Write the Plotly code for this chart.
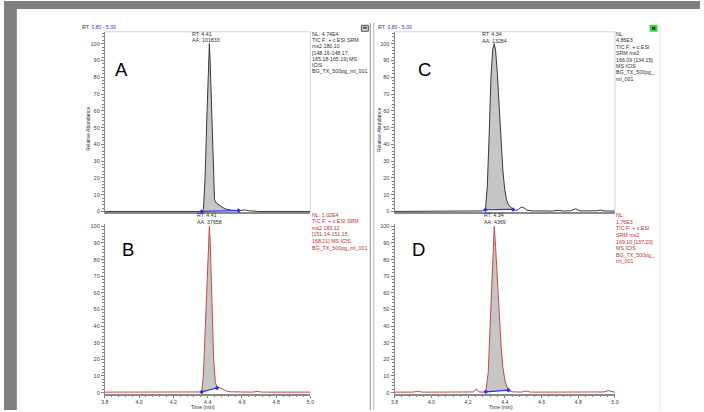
import plotly.graph_objects as go

# ---------------- data ----------------
time_A = [3.80, 4.00, 4.20, 4.30, 4.365, 4.375, 4.385, 4.395, 4.405, 4.41, 4.415, 4.425,
          4.433, 4.44, 4.45, 4.47, 4.49, 4.51, 4.54, 4.58, 4.60, 4.62, 4.64, 4.67, 4.70,
          4.80, 4.90, 5.00]
abund_A = [0, 0, 0, 0, 0, 1, 20, 55, 90, 100, 88, 50,
           18, 7, 5, 3.5, 2.2, 1.3, 0.7, 0.5, 0.8, 0.9, 0.4, 0.2, 0,
           0, 0, 0]
integ_A_t = [4.365, 4.58]
integ_A_y = [0, 0.5]

time_B = [3.80, 3.90, 4.00, 4.10, 4.20, 4.30, 4.35, 4.365, 4.375, 4.385, 4.395, 4.405,
          4.41, 4.415, 4.425, 4.435, 4.445, 4.455, 4.47, 4.49, 4.51, 4.53, 4.60, 4.66,
          4.69, 4.72, 4.80, 4.90, 5.00]
abund_B = [0.3, 0.3, 0.3, 0.3, 0.3, 0.3, 0.3, 0.4, 10, 35, 65, 92,
           100, 90, 55, 20, 6, 3.4, 3.0, 1.8, 0.9, 0.5, 0.3, 0.3,
           0.7, 0.3, 0.3, 0.3, 0.3]
integ_B_t = [4.365, 4.455]
integ_B_y = [0.4, 2.8]

time_C = [3.80, 3.90, 4.00, 4.10, 4.20, 4.28, 4.295, 4.305, 4.315, 4.325, 4.335, 4.343,
          4.35, 4.36, 4.37, 4.38, 4.39, 4.40, 4.41, 4.42, 4.435, 4.445, 4.46, 4.475,
          4.49, 4.505, 4.52, 4.55, 4.60, 4.66, 4.69, 4.72, 4.76, 4.785, 4.81, 4.86,
          4.90, 4.92, 4.94, 5.00]
abund_C = [0, 0.1, 0.2, 0.1, 0.2, 0.3, 1, 15, 45, 80, 97, 100,
           96, 82, 62, 40, 24, 13, 7, 4, 2, 1.2, 0.6, 1.2,
           2.6, 2.1, 0.8, 0.3, 0.3, 0.2, 0.7, 0.2, 0.4, 1.6, 0.3, 0.3,
           0.4, 0.8, 0.3, 0.2]
integ_C_t = [4.295, 4.445]
integ_C_y = [1, 1.2]

time_D = [3.80, 3.86, 3.90, 3.925, 3.95, 4.00, 4.10, 4.15, 4.20, 4.23, 4.245, 4.26,
          4.28, 4.297, 4.31, 4.32, 4.33, 4.343, 4.35, 4.36, 4.37, 4.38, 4.39, 4.40,
          4.41, 4.42, 4.44, 4.49, 4.515, 4.54, 4.60, 4.70, 4.80, 4.90, 4.94, 4.965,
          4.99, 5.00]
abund_D = [0.3, 0.3, 0.3, 0.8, 0.3, 0.3, 0.3, 0.3, 0.5, 0.4, 2.3, 0.4,
           0.3, 0.5, 12, 38, 72, 100, 88, 66, 45, 28, 15, 8,
           4, 1.5, 0.5, 0.3, 1.0, 0.3, 0.3, 0.3, 0.3, 0.3, 0.4, 1.2,
           0.5, 0.2]
integ_D_t = [4.297, 4.42]
integ_D_y = [0.5, 1.5]

panel_letters = ["A", "B", "C", "D"]
peak_labels = {
    "A": ["RT: 4.41", "AA: 101833"],
    "B": ["RT: 4.41", "AA: 37658"],
    "C": ["RT: 4.34", "AA: 13284"],
    "D": ["RT: 4.34", "AA: 4369"],
}
info_text = {
    "A": ["NL: 4.74E4", "TIC F: + c ESI SRM", "ms2 180.10", "[148.16-148.17,",
          "165.18-165.19] MS", "ICIS", "BG_TX_500pg_ml_001"],
    "B": ["NL: 1.02E4", "TIC F: + c ESI SRM", "ms2 183.12", "[151.14-151.15,",
          "168.21] MS ICIS", "BG_TX_500pg_ml_001"],
    "C": ["NL:", "4.86E3", "TIC F: + c ESI", "SRM ms2", "166.09 [134.15]", "MS ICIS",
          "BG_TX_500pg_", "ml_001"],
    "D": ["NL:", "1.76E3", "TIC F: + c ESI", "SRM ms2", "169.10 [137.20]", "MS ICIS",
          "BG_TX_500pg_", "ml_001"],
}
rt_range_label = "3.80 - 5.00"
x_title = "Time (min)"
y_title = "Relative Abundance"

# ---------------- layout helpers ----------------
W, H = 704, 412
def X(px):
    return px / W
def Y(py):
    return 1 - py / H

FONT = "Liberation Sans, Arial, sans-serif"
GRAY_AX = "#8a8a8a"
RED = "#c44848"
BLUE = "#2a2aff"
FILL = "#c6c6c6"

fig = go.Figure()

panels = {
    "A": dict(t=time_A, y=abund_A, it=integ_A_t, iy=integ_A_y, ax="1", line="#383838"),
    "B": dict(t=time_B, y=abund_B, it=integ_B_t, iy=integ_B_y, ax="2", line=RED),
    "C": dict(t=time_C, y=abund_C, it=integ_C_t, iy=integ_C_y, ax="3", line="#383838"),
    "D": dict(t=time_D, y=abund_D, it=integ_D_t, iy=integ_D_y, ax="4", line=RED),
}

for key, p in panels.items():
    xa = "x" if p["ax"] == "1" else "x" + p["ax"]
    ya = "y" if p["ax"] == "1" else "y" + p["ax"]
    t0, t1 = p["it"]
    wt = [t for t in p["t"] if t0 <= t <= t1]
    wy = [v for t, v in zip(p["t"], p["y"]) if t0 <= t <= t1]
    fig.add_trace(go.Scatter(x=[t0] + wt + [t1], y=[p["iy"][0]] + wy + [p["iy"][1]],
                             fill="toself", fillcolor=FILL, mode="lines",
                             line=dict(width=0), hoverinfo="skip",
                             xaxis=xa, yaxis=ya))
    fig.add_trace(go.Scatter(x=p["t"], y=p["y"], mode="lines",
                             line=dict(color=p["line"], width=1.0),
                             xaxis=xa, yaxis=ya))
    fig.add_trace(go.Scatter(x=p["it"], y=p["iy"], mode="lines+markers",
                             line=dict(color=BLUE, width=1.2),
                             marker=dict(color=BLUE, size=3.5, symbol="diamond"),
                             xaxis=xa, yaxis=ya, cliponaxis=False))

# axis domains (pixels)
xdom_left = [X(102), X(310)]
xdom_right = [X(395), X(618)]
ydom_top = [Y(213.0), Y(31.0)]
ydom_bot = [Y(395.5), Y(224.5)]

tickfont = dict(family=FONT, size=5.5, color="#404040")
xtickfont = dict(family=FONT, size=5.2, color="#404040")

def xaxis(dom, anchor, labels):
    d = dict(domain=dom, anchor=anchor, range=[3.8, 5.0], showline=True,
             linecolor=GRAY_AX, linewidth=2, showgrid=False, zeroline=False,
             layer="below traces", fixedrange=True)
    if labels:
        d.update(ticks="outside", ticklen=2, tickwidth=0.8, tickcolor="#808080",
                 tick0=3.8, dtick=0.2, tickformat=".1f", tickfont=xtickfont,
                 minor=dict(dtick=0.04, ticks="outside", ticklen=1.5,
                            tickwidth=0.6, tickcolor="#808080"))
    else:
        d.update(showticklabels=False, ticks="")
    return d

def yaxis(dom, anchor, top):
    return dict(domain=dom, anchor=anchor, range=[-0.6, top], showline=True,
                linecolor=GRAY_AX, linewidth=1, showgrid=False, zeroline=False,
                ticks="outside", ticklen=3, tickwidth=0.8, tickcolor="#808080",
                tick0=0, dtick=10, tickfont=tickfont, layer="below traces",
                minor=dict(dtick=2, ticks="outside", ticklen=1.5, tickwidth=0.6,
                           tickcolor="#808080"),
                fixedrange=True)

fig.update_layout(
    width=W, height=H, margin=dict(l=0, r=0, t=0, b=0),
    paper_bgcolor="white", plot_bgcolor="rgba(0,0,0,0)", showlegend=False,
    xaxis=xaxis(xdom_left, "y", False),
    yaxis=yaxis(ydom_top, "x", 107.1),
    xaxis2=xaxis(xdom_left, "y2", True),
    yaxis2=yaxis(ydom_bot, "x2", 101.5),
    xaxis3=xaxis(xdom_right, "y3", False),
    yaxis3=yaxis(ydom_top, "x3", 107.1),
    xaxis4=xaxis(xdom_right, "y4", True),
    yaxis4=yaxis(ydom_bot, "x4", 101.5),
)

shapes = []
def rect(x0, y0, x1, y1, fill, line=None, lw=0):
    shapes.append(dict(type="rect", xref="paper", yref="paper",
                       x0=X(x0), x1=X(x1), y0=Y(y1), y1=Y(y0),
                       fillcolor=fill, line=dict(color=line or fill, width=lw),
                       layer="above"))
def vline(x, y0, y1, color, w=1):
    shapes.append(dict(type="line", xref="paper", yref="paper",
                       x0=X(x), x1=X(x), y0=Y(y0), y1=Y(y1),
                       line=dict(color=color, width=w)))
def hline(y, x0, x1, color, w=1):
    shapes.append(dict(type="line", xref="paper", yref="paper",
                       x0=X(x0), x1=X(x1), y0=Y(y), y1=Y(y),
                       line=dict(color=color, width=w)))

# window frame
rect(0, 0, 704, 8, "#7f7f7f")
rect(0, 0, 13, 412, "#7f7f7f")
# divider between halves
vline(370.5, 22, 412, "#8c8c8c", 1)
vline(374, 22, 412, "#b4b4b4", 1)
# light green right edge
vline(663.5, 24, 412, "#d6f5cc", 1)
# light box borders for top panels
hline(31, 102, 310, "#d4d4d4", 1)
vline(310, 31, 212, "#d4d4d4", 1)
hline(31, 395, 618, "#d4d4d4", 1)
vline(618, 31, 212, "#d4d4d4", 1)
# icons
rect(361.5, 24.5, 368.5, 30.5, "#d8d8d8", "#505050", 1)
rect(363, 26, 367, 28, "#505050")
rect(653, 24, 661, 31, "#3cd63c")
rect(655.5, 26, 659, 29, "#2a4a2a")
fig.update_layout(shapes=shapes)

anns = []
def ann(px, py, text, size=5.5, color="#303030", xanchor="left", yanchor="middle",
        angle=0):
    anns.append(dict(x=X(px), y=Y(py), xref="paper", yref="paper", text=text,
                     showarrow=False, xanchor=xanchor, yanchor=yanchor,
                     textangle=angle, font=dict(family=FONT, size=size, color=color)))

# RT range labels
ann(77, 26, "RT: <span style='color:#3434d8'>%s</span>" % rt_range_label, size=5.2,
    color="#303030")
ann(376.5, 26, "RT: <span style='color:#3434d8'>%s</span>" % rt_range_label, size=5.2,
    color="#303030")

# panel letters
letter_pos = {"A": (118.5, 68.5), "B": (125.3, 250.5), "C": (425.8, 68.5), "D": (418.8, 250.5)}
for k in panel_letters:
    lx, ly = letter_pos[k]
    ann(lx, ly, k, size=18.5, color="black", xanchor="center")

# peak labels
peak_pos = {"A": (188.5, 33.3, 6.4), "B": (193.5, 215.5, 7.0),
            "C": (481.3, 33.3, 6.7), "D": (483.0, 215.5, 7.0)}
for k, lines in peak_labels.items():
    px, py, dy = peak_pos[k]
    for i, s in enumerate(lines):
        ann(px, py + i * dy, s, size=5.3, color="#303030")

# info blocks
info_pos = {"A": (309.5, 33.3, 6.23, "#303030"), "B": (309.5, 215.2, 6.67, "#c03030"),
            "C": (617.3, 33.3, 6.43, "#303030"), "D": (617.3, 215.7, 6.66, "#c03030")}
for k, lines in info_text.items():
    px, py, dy, col = info_pos[k]
    for i, s in enumerate(lines):
        ann(px, py + i * dy, s, size=5.3, color=col)

# axis titles
ann(85, 129, y_title, size=5, color="#303030", xanchor="center", angle=-90)
ann(379.3, 129, y_title, size=5, color="#303030", xanchor="center", angle=-90)
ann(201.5, 409.3, x_title, size=5.0, color="#303030", xanchor="center")
ann(502.3, 409.3, x_title, size=5.0, color="#303030", xanchor="center")

fig.update_layout(annotations=anns)

fig.write_html("out.html",
               config={"displayModeBar": False},
               post_script="document.body.style.margin='0';"
                           "document.body.style.overflow='hidden';")
